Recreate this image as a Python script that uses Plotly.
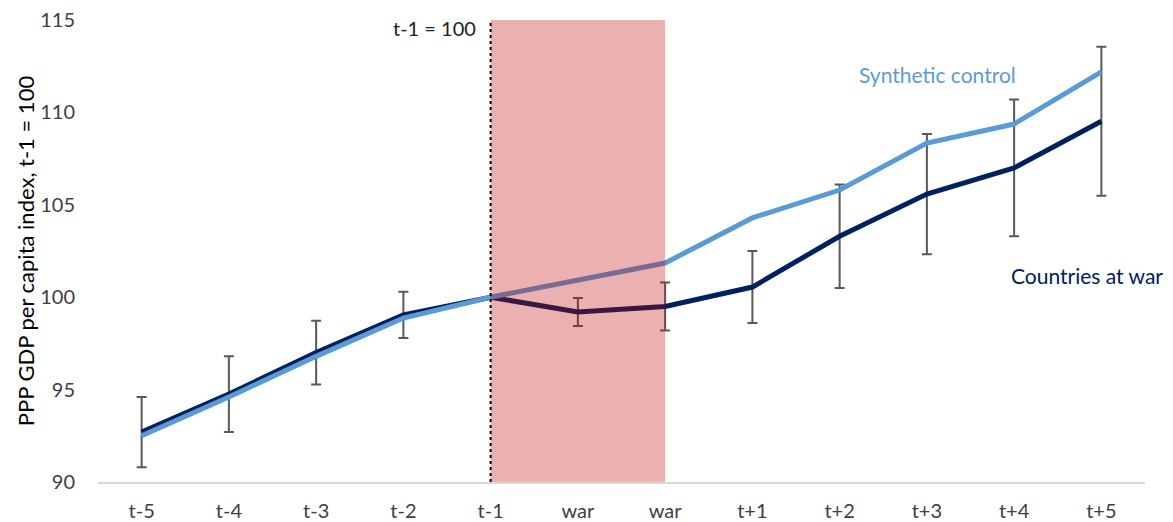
import plotly.graph_objects as go

periods = ["t-5", "t-4", "t-3", "t-2", "t-1", "war", "war", "t+1", "t+2", "t+3", "t+4", "t+5"]
countries_at_war = [92.7, 94.76, 97.0, 99.04, 100.0, 99.2, 99.5, 100.55, 103.3, 105.58, 107.0, 109.52]
war_error = [1.9, 2.05, 1.73, 1.25, 0.0, 0.76, 1.3, 1.95, 2.8, 3.25, 3.7, 4.03]
synthetic_control = [92.5, 94.6, 96.8, 98.87, 100.0, 100.93, 101.85, 104.29, 105.8, 108.34, 109.37, 112.19]
y_ticks = [90, 95, 100, 105, 110, 115]

x_idx = list(range(len(periods)))
FONT = "Lato"
NAVY = "#002060"
LIGHT = "#5b9bd5"

fig = go.Figure()
fig.add_trace(go.Scatter(
    x=x_idx, y=countries_at_war, mode="lines", name="Countries at war",
    line=dict(color=NAVY, width=5),
    error_y=dict(type="data", array=war_error, visible=True,
                 color="#595959", thickness=2, width=5),
))
fig.add_trace(go.Scatter(
    x=x_idx, y=synthetic_control, mode="lines", name="Synthetic control",
    line=dict(color=LIGHT, width=5),
))

# war shading
fig.add_shape(type="rect", xref="x", yref="y", x0=4, x1=6, y0=90, y1=115.1,
              fillcolor="rgba(192,0,0,0.31)", line=dict(width=0), layer="above")
# t-1 reference line
fig.add_shape(type="line", xref="x", yref="y", x0=4, x1=4, y0=90, y1=115.1,
              line=dict(color="black", width=2, dash="dot"), layer="above")

fig.add_annotation(x=4, y=114.57, xref="x", yref="y", text="t-1 = 100",
                   showarrow=False, xanchor="right", xshift=-13,
                   font=dict(family=FONT, size=20, color="#222222"))
fig.add_annotation(x=9.12, y=112.05, xref="x", yref="y", text="Synthetic control",
                   showarrow=False, xanchor="center",
                   font=dict(family=FONT, size=21, color=LIGHT))
fig.add_annotation(x=1.019, y=101.2, xref="paper", yref="y", text="Countries at war",
                   showarrow=False, xanchor="right",
                   font=dict(family=FONT, size=21, color=NAVY))
fig.add_annotation(x=-0.0695, y=0.5, xref="paper", yref="paper",
                   text="PPP GDP per capita index, t-1 = 100", textangle=-90,
                   showarrow=False, xanchor="center", yanchor="middle",
                   font=dict(family=FONT, size=22, color="black"))

# page body has an 8px margin, so the figure is sized/positioned to compensate
fig.update_layout(
    width=1165, height=514,
    margin=dict(l=90, r=28, t=12, b=40),
    paper_bgcolor="white", plot_bgcolor="white",
    showlegend=False,
    font=dict(family=FONT, size=20, color="#404040"),
    xaxis=dict(
        range=[-0.5, 11.5], tickmode="array", tickvals=x_idx, ticktext=periods,
        showgrid=False, zeroline=False, showline=True, linecolor="#d9d9d9",
        linewidth=2, ticks="outside", ticklen=10, tickcolor="rgba(0,0,0,0)",
        tickfont=dict(family=FONT, size=20, color="#404040"), automargin=False,
        ticklabeloverflow="allow",
    ),
    yaxis=dict(
        range=[90, 115], tickmode="array", tickvals=y_ticks,
        showgrid=False, zeroline=False, showline=False,
        ticks="outside", ticklen=18, tickcolor="rgba(0,0,0,0)",
        tickfont=dict(family=FONT, size=20, color="#404040"), automargin=False,
        ticklabeloverflow="allow",
    ),
)

fig.write_html("out.html")
